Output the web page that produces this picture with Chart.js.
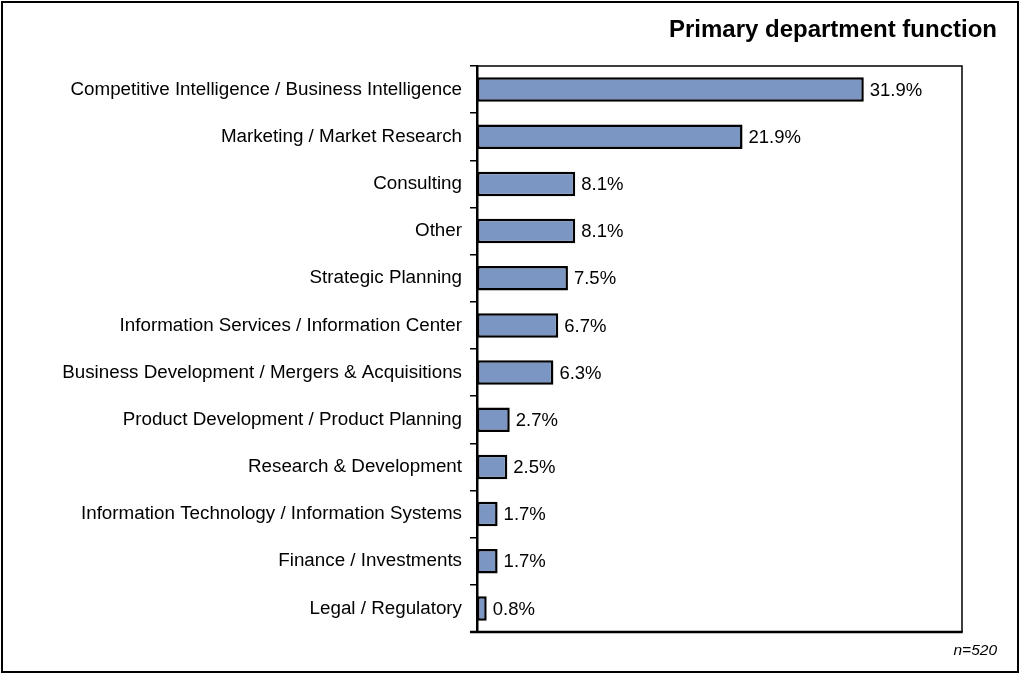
<!DOCTYPE html>
<html>
<head>
<meta charset="utf-8">
<script src="https://cdn.jsdelivr.net/npm/chart.js@4/dist/chart.umd.min.js"></script>
<style>
  html, body { margin: 0; padding: 0; background: #fff; }
  #wrap { position: relative; width: 1020px; height: 675px; }
</style>
</head>
<body>
<div id="wrap"><canvas id="c" width="1020" height="675"></canvas></div>
<script>
// Department functions, largest share first
const categories = [
  'Competitive Intelligence / Business Intelligence',
  'Marketing / Market Research',
  'Consulting',
  'Other',
  'Strategic Planning',
  'Information Services / Information Center',
  'Business Development / Mergers & Acquisitions',
  'Product Development / Product Planning',
  'Research & Development',
  'Information Technology / Information Systems',
  'Finance / Investments',
  'Legal / Regulatory'
];
// Share of respondents (%)
const shares = [31.9, 21.9, 8.1, 8.1, 7.5, 6.7, 6.3, 2.7, 2.5, 1.7, 1.7, 0.8];

const titleText = 'Primary department function';
const sampleNote = 'n=520';

const FONT = '"Liberation Sans", Arial, Helvetica, sans-serif';

// Frame, value labels, title and sample note
const decorations = {
  id: 'decorations',
  afterDatasetsDraw(chart) {
    const ctx = chart.ctx;
    const a = chart.chartArea;
    ctx.save();
    // value labels at the end of each bar
    const meta = chart.getDatasetMeta(0);
    ctx.fillStyle = '#000';
    ctx.font = '18.5px ' + FONT;
    ctx.textAlign = 'left';
    ctx.textBaseline = 'middle';
    meta.data.forEach((bar, i) => {
      ctx.fillText(shares[i].toFixed(1) + '%', bar.x + 6, bar.y + 1);
    });
    // plot frame: thin top/right, heavier bottom
    ctx.strokeStyle = '#000';
    ctx.lineWidth = 1.5;
    ctx.beginPath();
    ctx.moveTo(a.left, a.top);
    ctx.lineTo(a.right, a.top);
    ctx.lineTo(a.right, a.bottom);
    ctx.stroke();
    ctx.lineWidth = 2.5;
    ctx.beginPath();
    ctx.moveTo(a.left - 7, a.bottom);
    ctx.lineTo(a.right + 0.75, a.bottom);
    ctx.stroke();
    // outer border
    ctx.lineWidth = 2;
    ctx.strokeRect(2, 2, 1016, 670);
    // title
    ctx.font = 'bold 24px ' + FONT;
    ctx.textAlign = 'right';
    ctx.textBaseline = 'alphabetic';
    ctx.fillText(titleText, 997, 37);
    // sample size
    ctx.font = 'italic 15.5px ' + FONT;
    ctx.textBaseline = 'middle';
    ctx.fillText(sampleNote, 997, 651);
    ctx.restore();
  }
};

new Chart(document.getElementById('c'), {
  type: 'bar',
  data: {
    labels: categories,
    datasets: [{
      data: shares,
      backgroundColor: '#7b96c3',
      borderColor: '#000',
      borderWidth: 2.5,
      borderSkipped: false,
      categoryPercentage: 1,
      barPercentage: 0.52
    }]
  },
  options: {
    indexAxis: 'y',
    responsive: false,
    animation: false,
    layout: { padding: { top: 66, right: 58, bottom: 43, left: 0 } },
    plugins: {
      legend: { display: false },
      tooltip: { enabled: false },
      title: { display: false }
    },
    scales: {
      x: {
        display: false,
        min: 0,
        max: 40
      },
      y: {
        afterFit(scale) { scale.width = 477; },
        border: { display: true, color: '#000', width: 2.5 },
        grid: {
          offset: true,
          drawOnChartArea: false,
          drawTicks: true,
          tickLength: 7,
          color: '#000',
          lineWidth: 1.5
        },
        ticks: {
          color: '#000',
          padding: 8,
          font: { family: FONT, size: 18.8 }
        }
      }
    }
  },
  plugins: [decorations]
});
</script>
</body>
</html>
